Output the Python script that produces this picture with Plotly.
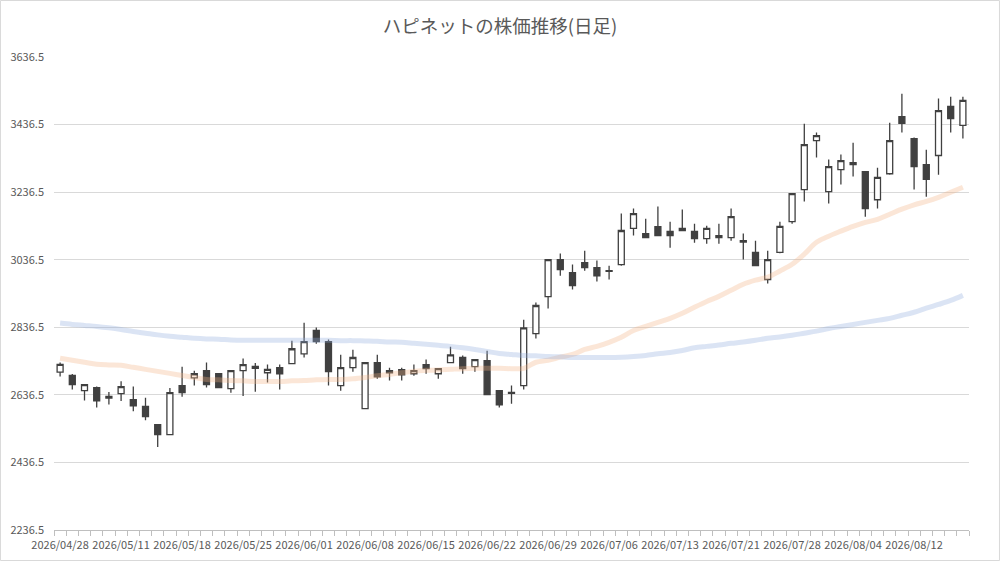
import plotly.graph_objects as go

# 営業日 (2026/04/28 - 2026/08/18)
dates = [
    "2026/04/28", "2026/04/30", "2026/05/01", "2026/05/07", "2026/05/08",
    "2026/05/11", "2026/05/12", "2026/05/13", "2026/05/14", "2026/05/15",
    "2026/05/18", "2026/05/19", "2026/05/20", "2026/05/21", "2026/05/22",
    "2026/05/25", "2026/05/26", "2026/05/27", "2026/05/28", "2026/05/29",
    "2026/06/01", "2026/06/02", "2026/06/03", "2026/06/04", "2026/06/05",
    "2026/06/08", "2026/06/09", "2026/06/10", "2026/06/11", "2026/06/12",
    "2026/06/15", "2026/06/16", "2026/06/17", "2026/06/18", "2026/06/19",
    "2026/06/22", "2026/06/23", "2026/06/24", "2026/06/25", "2026/06/26",
    "2026/06/29", "2026/06/30", "2026/07/01", "2026/07/02", "2026/07/03",
    "2026/07/06", "2026/07/07", "2026/07/08", "2026/07/09", "2026/07/10",
    "2026/07/13", "2026/07/14", "2026/07/15", "2026/07/16", "2026/07/17",
    "2026/07/21", "2026/07/22", "2026/07/23", "2026/07/24", "2026/07/27",
    "2026/07/28", "2026/07/29", "2026/07/30", "2026/07/31", "2026/08/03",
    "2026/08/04", "2026/08/05", "2026/08/06", "2026/08/07", "2026/08/10",
    "2026/08/12", "2026/08/13", "2026/08/14", "2026/08/17", "2026/08/18",
]

opens = [
    2704, 2694, 2649, 2658, 2632, 2640, 2622, 2602, 2548, 2519,
    2664, 2687, 2708, 2699, 2655, 2708, 2721, 2702, 2717, 2729,
    2758, 2827, 2794, 2664, 2717, 2596, 2732, 2702, 2711, 2699,
    2726, 2699, 2732, 2747, 2720, 2738, 2649, 2641, 2664, 2818,
    2927, 3037, 2998, 3028, 3013, 3004, 3022, 3129, 3114, 3134,
    3120, 3129, 3120, 3099, 3108, 3102, 3093, 3058, 2978, 3058,
    3149, 3244, 3389, 3238, 3303, 3324, 3297, 3214, 3291, 3460,
    3395, 3318, 3345, 3490, 3434,
]
highs = [
    2732, 2698, 2668, 2661, 2645, 2677, 2661, 2628, 2550, 2657,
    2720, 2708, 2732, 2701, 2709, 2744, 2731, 2726, 2726, 2797,
    2850, 2836, 2800, 2755, 2770, 2733, 2755, 2717, 2717, 2726,
    2741, 2715, 2779, 2753, 2742, 2767, 2650, 2664, 2859, 2910,
    3038, 3055, 3022, 3063, 3034, 3019, 3173, 3188, 3158, 3194,
    3149, 3185, 3143, 3137, 3143, 3188, 3114, 3093, 3063, 3149,
    3233, 3439, 3413, 3333, 3348, 3383, 3298, 3309, 3442, 3528,
    3398, 3362, 3514, 3519, 3519,
]
lows = [
    2691, 2652, 2620, 2599, 2608, 2618, 2588, 2561, 2482, 2517,
    2631, 2664, 2658, 2656, 2643, 2633, 2646, 2673, 2652, 2727,
    2747, 2788, 2664, 2649, 2705, 2594, 2684, 2679, 2679, 2693,
    2699, 2684, 2730, 2699, 2705, 2636, 2599, 2610, 2652, 2803,
    2892, 2989, 2948, 3004, 2972, 2978, 3019, 3108, 3102, 3108,
    3072, 3122, 3087, 3084, 3084, 3093, 3037, 3018, 2966, 3056,
    3143, 3209, 3339, 3203, 3259, 3283, 3164, 3188, 3288, 3413,
    3244, 3223, 3288, 3413, 3395,
]
closes = [
    2727, 2667, 2667, 2619, 2627, 2661, 2604, 2572, 2519, 2643,
    2643, 2699, 2667, 2658, 2708, 2726, 2715, 2712, 2699, 2773,
    2794, 2794, 2705, 2717, 2747, 2732, 2690, 2708, 2696, 2708,
    2714, 2714, 2755, 2714, 2741, 2637, 2607, 2644, 2835, 2901,
    3037, 3007, 2960, 3013, 2989, 3002, 3123, 3173, 3102, 3108,
    3108, 3123, 3099, 3129, 3102, 3164, 3089, 3019, 3037, 3135,
    3232, 3377, 3404, 3312, 3330, 3318, 3188, 3280, 3389, 3440,
    3312, 3274, 3478, 3454, 3508,
]

# 移動平均 (短期・長期)
ma_short = [
    2745, 2739, 2733, 2727, 2725, 2724, 2718, 2712, 2706, 2700,
    2694, 2688, 2682, 2681, 2679, 2678, 2676, 2676, 2676, 2678,
    2679, 2681, 2682, 2682, 2684, 2688, 2693, 2697, 2702, 2706,
    2709, 2710, 2712, 2714, 2715, 2715, 2715, 2714, 2715, 2733,
    2739, 2748, 2756, 2771, 2780, 2792, 2807, 2827, 2839, 2851,
    2863, 2878, 2896, 2913, 2928, 2946, 2964, 2976, 2985, 3003,
    3023, 3053, 3088, 3106, 3121, 3135, 3147, 3156, 3171, 3186,
    3199, 3209, 3221, 3236, 3251,
]
ma_long = [
    2849, 2845, 2842, 2839, 2835, 2830, 2824, 2819, 2814, 2810,
    2807, 2804, 2802, 2801, 2799, 2798, 2798, 2798, 2798, 2798,
    2798, 2798, 2798, 2797, 2797, 2796, 2795, 2793, 2792, 2789,
    2786, 2783, 2780, 2776, 2771, 2765, 2759, 2756, 2753, 2752,
    2750, 2749, 2747, 2747, 2747, 2747, 2748, 2750, 2753, 2758,
    2762, 2768, 2776, 2780, 2784, 2789, 2793, 2798, 2804, 2808,
    2813, 2819, 2825, 2833, 2839, 2845, 2851, 2857, 2863, 2872,
    2881, 2893, 2904, 2916, 2931,
]

y_ticks = [2236.5, 2436.5, 2636.5, 2836.5, 3036.5, 3236.5, 3436.5, 3636.5]

font_jp = "Noto Sans CJK JP"
gray_text = "#595959"

fig = go.Figure()

fig.add_trace(go.Candlestick(
    x=dates, open=opens, high=highs, low=lows, close=closes,
    increasing=dict(fillcolor="white", line=dict(color="#404040", width=1.3)),
    decreasing=dict(fillcolor="#404040", line=dict(color="#404040", width=1.3)),
    hoverinfo="skip", showlegend=False,
))

fig.add_trace(go.Scatter(
    x=dates, y=ma_short, mode="lines",
    line=dict(color="rgba(244,177,131,0.32)", width=5, shape="spline"),
    hoverinfo="skip", showlegend=False,
))
fig.add_trace(go.Scatter(
    x=dates, y=ma_long, mode="lines",
    line=dict(color="rgba(143,170,220,0.32)", width=5, shape="spline"),
    hoverinfo="skip", showlegend=False,
))

# 外枠
fig.add_shape(type="rect", xref="paper", yref="paper",
              x0=-0.0585, x1=1.0333, y0=-0.0645, y1=1.1194,
              line=dict(color="#d9d9d9", width=1), layer="below")

fig.update_layout(
    width=1000, height=561,
    margin=dict(l=54, r=31, t=57, b=31, autoexpand=False),
    paper_bgcolor="white", plot_bgcolor="white",
    title=dict(text="ハピネットの株価推移(日足)", x=0.5, xref="container", y=0.952, yanchor="middle",
               font=dict(family=font_jp, size=18.5, color=gray_text)),
    font=dict(family=font_jp, size=11, color=gray_text),
    showlegend=False,
)

fig.update_xaxes(
    type="category",
    rangeslider=dict(visible=False),
    tickmode="array",
    tickvals=dates,
    ticktext=[d if i % 5 == 0 else "" for i, d in enumerate(dates)],
    tickson="boundaries",
    ticks="outside", ticklen=5, tickcolor="#bfbfbf",
    ticklabelstandoff=5,
    showline=True, linecolor="#bfbfbf", linewidth=1,
    showgrid=False, tickangle=0,
    tickfont=dict(family=font_jp, size=11, color=gray_text),
)
fig.update_yaxes(
    range=[2236.5, 3636.5],
    tickmode="array", tickvals=y_ticks, tickformat=".1f",
    showgrid=True, gridcolor="#d9d9d9", gridwidth=1,
    zeroline=False, showline=False, ticks="",
    ticklabelstandoff=9,
    tickfont=dict(family=font_jp, size=11, color=gray_text),
)

fig.write_html("out.html", config={"displayModeBar": False},
               post_script="document.body.style.margin='0';")
